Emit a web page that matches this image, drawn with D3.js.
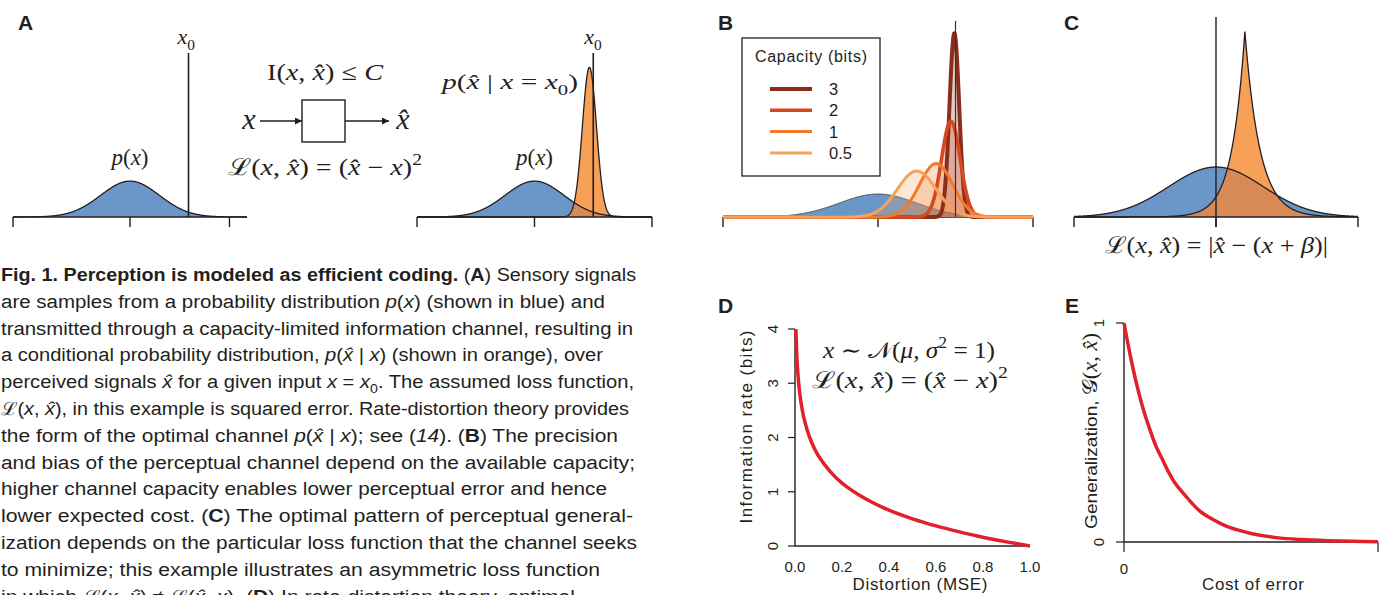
<!doctype html>
<html lang="en">
<head>
  <title>Fig. 1</title>
  <script src="https://d3js.org/d3.v7.min.js"></script>
  <style>
    body { margin: 0px; background: #fff; }
  </style>
</head>
<body>
<div id="container"></div>
<script>
    // ---- data ----
    // A / B / C: the prior p(x) and the channel p(xhat | x = x0)
    var priorMean = 0, priorSd = 1;
    var x0 = 2;
    var axisTicksA1 = [-4, 0, 3.4];
    var axisTicksA2 = [-4, 0, 4];
    var channelA = { mean: 1.87, sd: 0.24 };

    // B: channel for each capacity
    var capacities = ["3", "2", "1", "0.5"];
    var capMeans = [1.97, 1.88, 1.5, 1.0];
    var capSds = [0.125, 0.24, 0.43, 0.5];
    var capColors = ["#8c2d1c", "#d6491f", "#f07a2c", "#f5a25c"];
    var capWidths = [4, 3.6, 3, 3];

    // C: asymmetric loss, cusp-shaped channel
    var axisTicksC = [-3, 0, 3];
    var cuspPeak = 0.61, cuspHeight = 1.48, cuspLeft = 0.275, cuspRight = 0.317;

    // D: rate-distortion curve
    var distortion = [0.0039, 0.005, 0.007, 0.01, 0.014, 0.02, 0.03, 0.04, 0.06, 0.08, 0.1, 0.15, 0.2, 0.3, 0.4, 0.5, 0.6, 0.7, 0.8, 0.9, 1.0];
    var rate = [4.0, 3.82, 3.58, 3.32, 3.08, 2.82, 2.53, 2.32, 2.03, 1.82, 1.66, 1.37, 1.16, 0.87, 0.66, 0.5, 0.37, 0.26, 0.16, 0.076, 0.0];
    var rateTicks = [0, 1, 2, 3, 4];
    var distTicks = [0, 0.2, 0.4, 0.6, 0.8, 1.0];

    // E: generalization curve
    var cost = [0, 0.025, 0.05, 0.075, 0.1, 0.125, 0.15, 0.175, 0.2, 0.25, 0.3, 0.35, 0.4, 0.45, 0.5, 0.6, 0.7, 0.8, 0.9, 1.0];
    var generalization = [1, 0.85, 0.72, 0.61, 0.52, 0.44, 0.38, 0.32, 0.27, 0.2, 0.14, 0.103, 0.074, 0.054, 0.039, 0.02, 0.011, 0.006, 0.003, 0.0015];
    var genTicks = [0, 1];

    var BLUE = "#6b96c8", ORANGE = "#f7a058", OVERLAP = "#d78a55", RED = "#e2202a", INK = "#231f20";
    var SERIF = "'Liberation Serif', 'DejaVu Serif', serif";
    var SANS = "'Liberation Sans', Arial, sans-serif";
    var XH = "x\u0302";

    var svg = d3.select('div#container').append('svg')
        .attr('width', 1386).attr('height', 595);

    function gauss(m, s) {
        return function(x) { return Math.exp(-(x - m) * (x - m) / (2 * s * s)) / (s * Math.sqrt(2 * Math.PI)); };
    }

    // text with tspans: [string, style] where style = n | i | b | sub | sup
    function rich(parent, x, y, parts, o) {
        var size = o.size;
        var t = parent.append("text").attr("x", x).attr("y", y)
            .attr("font-family", o.family).attr("font-size", size)
            .attr("text-anchor", o.anchor || "start").attr("fill", o.fill || INK);
        if (o.len) t.attr("textLength", o.len).attr("lengthAdjust", "spacingAndGlyphs");
        if (o.rotate) t.attr("transform", "rotate(" + o.rotate + "," + x + "," + y + ")");
        var shift = 0;
        parts.forEach(function(p) {
            var st = p[1];
            var sp = t.append("tspan").text(p[0]);
            var target = st == "sub" ? size * 0.28 : st == "sup" ? -size * 0.42 : 0;
            if (target != shift) { sp.attr("dy", target - shift); shift = target; }
            if (st == "i") sp.attr("font-style", "italic");
            if (st == "b") sp.attr("font-weight", "bold");
            if (st == "sub" || st == "sup") sp.attr("font-size", size * 0.7);
            if (p[2]) sp.attr("font-family", p[2]);
            if (p[3]) sp.attr("font-size", p[3]);
        });
        return t;
    }

    function panelLabel(x, y, s) {
        svg.append("text").attr("x", x).attr("y", y).text(s)
            .attr("font-family", SANS).attr("font-weight", "bold").attr("font-size", 21).attr("fill", INK);
    }

    function baseAxis(x, y, ticks, extent) {
        var g = svg.append("g");
        g.append("line").attr("x1", x(extent[0])).attr("x2", x(extent[1]))
            .attr("y1", y(0)).attr("y2", y(0)).attr("stroke", INK).attr("stroke-width", 1.4);
        g.selectAll(".tk").data(ticks).enter().append("line")
            .attr("x1", function(d) { return x(d); }).attr("x2", function(d) { return x(d); })
            .attr("y1", y(0)).attr("y2", y(0) + 10).attr("stroke", INK).attr("stroke-width", 1.4);
    }

    function areaOf(x, y, f, xs) {
        return d3.area().x(function(d) { return x(d); }).y0(y(0)).y1(function(d) { return y(f(d)); })(xs);
    }
    function lineOf(x, y, f, xs) {
        return d3.line().x(function(d) { return x(d); }).y(function(d) { return y(f(d)); })(xs);
    }

    var prior = gauss(priorMean, priorSd);
    var grid = d3.range(-4, 4.0001, 0.01);

    // ---------------- Panel A ----------------
    panelLabel(18, 30, "A");
    var yA = d3.scaleLinear().domain([0, 1.7]).range([217, 64]);
    var xA1 = d3.scaleLinear().domain([-4, 4]).range([13, 247]);
    svg.append("path").attr("d", areaOf(xA1, yA, prior, grid)).attr("fill", BLUE);
    svg.append("path").attr("d", lineOf(xA1, yA, prior, grid)).attr("fill", "none").attr("stroke", INK).attr("stroke-width", 1.3);
    baseAxis(xA1, yA, axisTicksA1, [-4, 4]);
    svg.append("line").attr("x1", xA1(x0)).attr("x2", xA1(x0)).attr("y1", 53).attr("y2", yA(0))
        .attr("stroke", INK).attr("stroke-width", 1.6);
    rich(svg, xA1(x0) - 11, 44, [["x", "i"], ["0", "sub"]], { size: 22, family: SERIF });
    rich(svg, xA1(0), 165, [["p", "i"], ["(", "n"], ["x", "i"], [")", "n"]], { size: 23, family: SERIF, anchor: "middle" });

    // channel diagram
    rich(svg, 325, 80, [["I(", "n"], ["x", "i"], [", ", "n"], [XH, "i"], [") \u2264 ", "n"], ["C", "i"]], { size: 23, family: SERIF, anchor: "middle", len: 116 });
    var defs = svg.append("defs");
    defs.append("marker").attr("id", "arr").attr("viewBox", "0 0 10 10").attr("refX", 10).attr("refY", 5)
        .attr("markerWidth", 10).attr("markerHeight", 7).attr("markerUnits", "userSpaceOnUse").attr("orient", "auto")
        .append("path").attr("d", "M0,0L10,5L0,10z").attr("fill", INK);
    svg.append("rect").attr("x", 302).attr("y", 100).attr("width", 43).attr("height", 42)
        .attr("fill", "none").attr("stroke", INK).attr("stroke-width", 1.4);
    svg.append("line").attr("x1", 260).attr("x2", 302).attr("y1", 121).attr("y2", 121)
        .attr("stroke", INK).attr("stroke-width", 1.4).attr("marker-end", "url(#arr)");
    svg.append("line").attr("x1", 345).attr("x2", 389).attr("y1", 121).attr("y2", 121)
        .attr("stroke", INK).attr("stroke-width", 1.4).attr("marker-end", "url(#arr)");
    rich(svg, 249, 129, [["x", "i"]], { size: 30, family: SERIF, anchor: "middle" });
    rich(svg, 403, 129, [[XH, "i"]], { size: 30, family: SERIF, anchor: "middle" });
    rich(svg, 228, 175, [["\u2112(", "n"], ["x", "i"], [", ", "n"], [XH, "i"], [") = (", "n"], [XH, "i"], [" \u2212 ", "n"], ["x", "i"], [")", "n"], ["2", "sup"]],
        { size: 23, family: SERIF, len: 194 });

    // right part of A
    var xA2 = d3.scaleLinear().domain([-4, 4]).range([417, 652]);
    var chanA = gauss(channelA.mean, channelA.sd);
    var overlapA = function(d) { return Math.min(prior(d), chanA(d)); };
    svg.append("path").attr("d", areaOf(xA2, yA, prior, grid)).attr("fill", BLUE);
    svg.append("path").attr("d", areaOf(xA2, yA, chanA, grid)).attr("fill", ORANGE);
    svg.append("path").attr("d", areaOf(xA2, yA, overlapA, grid)).attr("fill", OVERLAP);
    svg.append("path").attr("d", lineOf(xA2, yA, prior, grid)).attr("fill", "none").attr("stroke", INK).attr("stroke-width", 1.3);
    svg.append("path").attr("d", lineOf(xA2, yA, chanA, grid)).attr("fill", "none").attr("stroke", INK).attr("stroke-width", 1.3);
    baseAxis(xA2, yA, axisTicksA2, [-4, 4]);
    svg.append("line").attr("x1", xA2(x0)).attr("x2", xA2(x0)).attr("y1", 53).attr("y2", yA(0))
        .attr("stroke", INK).attr("stroke-width", 1.6);
    rich(svg, xA2(x0) - 9, 44, [["x", "i"], ["0", "sub"]], { size: 22, family: SERIF });
    rich(svg, xA2(0), 165, [["p", "i"], ["(", "n"], ["x", "i"], [")", "n"]], { size: 23, family: SERIF, anchor: "middle" });
    rich(svg, 442, 89, [["p", "i"], ["(", "n"], [XH, "i"], [" | ", "n"], ["x", "i"], [" = ", "n"], ["x", "i"], ["0", "sub"], [")", "n"]],
        { size: 22, family: SERIF, len: 136 });

    // ---------------- Panel B ----------------
    panelLabel(718, 30, "B");
    var xB = d3.scaleLinear().domain([-4, 4]).range([723, 1033]);
    var yB = d3.scaleLinear().domain([0, 3.3]).range([217, 27]);
    baseAxis(xB, yB, axisTicksA2, [-4, 4]);
    svg.append("path").attr("d", areaOf(xB, yB, prior, grid)).attr("fill", BLUE);
    svg.append("path").attr("d", lineOf(xB, yB, prior, grid)).attr("fill", "none").attr("stroke", "#444").attr("stroke-width", 1);
    var gridB = d3.range(-4, 4.0001, 0.005);
    capacities.forEach(function(c, i) {
        var f = gauss(capMeans[i], capSds[i]);
        svg.append("path").attr("d", areaOf(xB, yB, f, gridB)).attr("fill", capColors[i]).attr("fill-opacity", 0.25);
    });
    capacities.forEach(function(c, i) {
        var f = gauss(capMeans[i], capSds[i]);
        svg.append("path").attr("d", lineOf(xB, yB, f, gridB)).attr("fill", "none")
            .attr("stroke", capColors[i]).attr("stroke-width", capWidths[i]).attr("stroke-linejoin", "round");
    });
    svg.append("line").attr("x1", xB(x0)).attr("x2", xB(x0)).attr("y1", 21).attr("y2", yB(0))
        .attr("stroke", "#333").attr("stroke-width", 1.2);

    // legend
    var leg = svg.append("g");
    leg.append("rect").attr("x", 742).attr("y", 38).attr("width", 138).attr("height", 138)
        .attr("fill", "#fff").attr("stroke", INK).attr("stroke-width", 1.3);
    leg.append("text").attr("x", 811).attr("y", 62).attr("text-anchor", "middle").text("Capacity (bits)")
        .attr("font-family", SANS).attr("font-size", 16).attr("textLength", 112).attr("fill", INK);
    capacities.forEach(function(c, i) {
        var yy = 89 + i * 21.3;
        leg.append("line").attr("x1", 770).attr("x2", 812).attr("y1", yy).attr("y2", yy)
            .attr("stroke", capColors[i]).attr("stroke-width", capWidths[i]);
        leg.append("text").attr("x", 829).attr("y", yy + 6).text(c)
            .attr("font-family", SANS).attr("font-size", 16.5).attr("fill", INK);
    });

    // ---------------- Panel C ----------------
    panelLabel(1064, 30, "C");
    var xC = d3.scaleLinear().domain([-3, 3]).range([1074, 1358]);
    var yC = d3.scaleLinear().domain([0, 1.5]).range([217, 29]);
    var gridC = d3.range(-3, 3.0001, 0.005);
    var cusp = function(d) {
        var dd = d - cuspPeak;
        return cuspHeight * Math.exp(dd < 0 ? dd / cuspLeft : -dd / cuspRight);
    };
    var overlapC = function(d) { return Math.min(prior(d), cusp(d)); };
    svg.append("path").attr("d", areaOf(xC, yC, prior, gridC)).attr("fill", BLUE);
    svg.append("path").attr("d", areaOf(xC, yC, cusp, gridC)).attr("fill", ORANGE);
    svg.append("path").attr("d", areaOf(xC, yC, overlapC, gridC)).attr("fill", OVERLAP);
    svg.append("path").attr("d", lineOf(xC, yC, prior, gridC)).attr("fill", "none").attr("stroke", INK).attr("stroke-width", 1.3);
    svg.append("path").attr("d", lineOf(xC, yC, cusp, gridC)).attr("fill", "none").attr("stroke", INK).attr("stroke-width", 1.3);
    baseAxis(xC, yC, axisTicksC, [-3, 3]);
    svg.append("line").attr("x1", xC(0)).attr("x2", xC(0)).attr("y1", 17).attr("y2", yC(0) + 10)
        .attr("stroke", INK).attr("stroke-width", 1.4);
    rich(svg, 1105, 253, [["\u2112(", "n"], ["x", "i"], [", ", "n"], [XH, "i"], [") = |", "n"], [XH, "i"], [" \u2212 (", "n"], ["x", "i"], [" + ", "n"], ["\u03b2", "i"], [")|", "n"]],
        { size: 23, family: SERIF, len: 223 });

    // ---------------- Panel D ----------------
    panelLabel(718, 313, "D");
    var xD = d3.scaleLinear().domain([0, 1]).range([795, 1030]);
    var yD = d3.scaleLinear().domain([0, 4]).range([546, 329]);
    var gD = svg.append("g");
    gD.append("line").attr("x1", xD(0)).attr("x2", xD(1)).attr("y1", yD(0)).attr("y2", yD(0)).attr("stroke", INK).attr("stroke-width", 1.4);
    gD.append("line").attr("x1", xD(0)).attr("x2", xD(0)).attr("y1", yD(0)).attr("y2", yD(4)).attr("stroke", INK).attr("stroke-width", 1.4);
    rateTicks.forEach(function(t) {
        gD.append("line").attr("x1", xD(0) - 7).attr("x2", xD(0)).attr("y1", yD(t)).attr("y2", yD(t)).attr("stroke", INK).attr("stroke-width", 1.2);
        gD.append("text").attr("transform", "translate(778," + yD(t) + ") rotate(-90)").attr("text-anchor", "middle")
            .text(t).attr("font-family", SANS).attr("font-size", 15).attr("fill", INK);
    });
    distTicks.forEach(function(t) {
        gD.append("text").attr("x", xD(t)).attr("y", 572).attr("text-anchor", "middle")
            .text(d3.format(".1f")(t)).attr("font-family", SANS).attr("font-size", 15).attr("fill", INK);
    });
    gD.append("text").attr("x", 920).attr("y", 590).attr("text-anchor", "middle").text("Distortion (MSE)")
        .attr("font-family", SANS).attr("font-size", 17).attr("textLength", 135).attr("fill", INK);
    gD.append("text").attr("transform", "translate(752,427) rotate(-90)").attr("text-anchor", "middle").text("Information rate (bits)")
        .attr("font-family", SANS).attr("font-size", 17).attr("textLength", 193).attr("fill", INK);
    gD.append("path").datum(d3.range(distortion.length))
        .attr("d", d3.line().x(function(i) { return xD(distortion[i]); }).y(function(i) { return yD(rate[i]); }).curve(d3.curveCatmullRom.alpha(0.5)))
        .attr("fill", "none").attr("stroke", RED).attr("stroke-width", 3.5);
    rich(svg, 823, 358, [["x", "i"], [" \u223c ", "n"], ["\ud835\udca9", "n"], ["(", "n"], ["\u03bc", "i"], [", ", "n"], ["\u03c3", "i"], ["2", "sup"], [" = 1)", "n"]],
        { size: 23, family: SERIF, len: 172 });
    rich(svg, 812, 388, [["\u2112(", "n"], ["x", "i"], [", ", "n"], [XH, "i"], [") = (", "n"], [XH, "i"], [" \u2212 ", "n"], ["x", "i"], [")", "n"], ["2", "sup"]],
        { size: 23, family: SERIF, len: 196 });

    // ---------------- Panel E ----------------
    panelLabel(1065, 313, "E");
    var xE = d3.scaleLinear().domain([0, 1]).range([1124, 1378]);
    var yE = d3.scaleLinear().domain([0, 1]).range([542, 323]);
    var gE = svg.append("g");
    gE.append("line").attr("x1", xE(0)).attr("x2", xE(1)).attr("y1", yE(0)).attr("y2", yE(0)).attr("stroke", INK).attr("stroke-width", 1.4);
    gE.append("line").attr("x1", xE(0)).attr("x2", xE(0)).attr("y1", yE(0)).attr("y2", yE(1)).attr("stroke", INK).attr("stroke-width", 1.4);
    genTicks.forEach(function(t) {
        gE.append("line").attr("x1", xE(0) - 8).attr("x2", xE(0)).attr("y1", yE(t)).attr("y2", yE(t)).attr("stroke", INK).attr("stroke-width", 1.2);
        gE.append("text").attr("transform", "translate(1104," + yE(t) + ") rotate(-90)").attr("text-anchor", "middle")
            .text(t).attr("font-family", SANS).attr("font-size", 15).attr("fill", INK);
        gE.append("line").attr("x1", xE(t)).attr("x2", xE(t)).attr("y1", yE(0)).attr("y2", yE(0) + 10).attr("stroke", INK).attr("stroke-width", 1.2);
    });
    gE.append("text").attr("x", xE(0)).attr("y", 574).attr("text-anchor", "middle").text("0")
        .attr("font-family", SANS).attr("font-size", 15).attr("fill", INK);
    gE.append("text").attr("x", 1253).attr("y", 590).attr("text-anchor", "middle").text("Cost of error")
        .attr("font-family", SANS).attr("font-size", 17).attr("textLength", 102).attr("fill", INK);
    rich(svg, 1097, 431, [["Generalization, ", "n"], ["\ud835\udca2", "n", SERIF, 20], ["(", "n", SERIF, 20], ["x", "i", SERIF, 20], [", ", "n", SERIF, 20], [XH, "i", SERIF, 20], [")", "n", SERIF, 20]],
        { size: 17, family: SANS, anchor: "middle", rotate: -90, len: 196 });
    gE.append("path").datum(d3.range(cost.length))
        .attr("d", d3.line().x(function(i) { return xE(cost[i]); }).y(function(i) { return yE(generalization[i]); }).curve(d3.curveCatmullRom.alpha(0.5)))
        .attr("fill", "none").attr("stroke", RED).attr("stroke-width", 3.5);

    // ---------------- caption ----------------
    var captionLines = [
        [["Fig. 1. Perception is modeled as efficient coding.", "b"], [" (", "n"], ["A", "b"], [") Sensory signals", "n"]],
        [["are samples from a probability distribution ", "n"], ["p", "i"], ["(", "n"], ["x", "i"], [") (shown in blue) and", "n"]],
        [["transmitted through a capacity-limited information channel, resulting in", "n"]],
        [["a conditional probability distribution, ", "n"], ["p", "i"], ["(", "n"], [XH + " | x", "i"], [") (shown in orange), over", "n"]],
        [["perceived signals ", "n"], [XH, "i"], [" for a given input ", "n"], ["x", "i"], [" = ", "n"], ["x", "i"], ["0", "sub"], [". The assumed loss function,", "n"]],
        [["\u2112(", "n"], ["x", "i"], [", ", "n"], [XH, "i"], ["), in this example is squared error. Rate-distortion theory provides", "n"]],
        [["the form of the optimal channel ", "n"], ["p", "i"], ["(", "n"], [XH + " | x", "i"], ["); see (", "n"], ["14", "i"], ["). (", "n"], ["B", "b"], [") The precision", "n"]],
        [["and bias of the perceptual channel depend on the available capacity;", "n"]],
        [["higher channel capacity enables lower perceptual error and hence", "n"]],
        [["lower expected cost. (", "n"], ["C", "b"], [") The optimal pattern of perceptual general-", "n"]],
        [["ization depends on the particular loss function that the channel seeks", "n"]],
        [["to minimize; this example illustrates an asymmetric loss function", "n"]],
        [["in which ", "n"], ["\u2112(", "n"], ["x", "i"], [", ", "n"], [XH, "i"], [") \u2260 \u2112(", "n"], [XH, "i"], [", ", "n"], ["x", "i"], ["). (", "n"], ["D", "b"], [") In rate-distortion theory, optimal", "n"]]
    ];
    var captionEnds = [636, 605, 633, 603, 634, 629, 618, 635, 607, 633, 637, 600, 575];
    captionLines.forEach(function(parts, i) {
        rich(svg, 1, 281 + i * 26.8, parts, { size: 18, family: SANS, len: captionEnds[i] - 1 });
    });
</script>
</body>
</html>
